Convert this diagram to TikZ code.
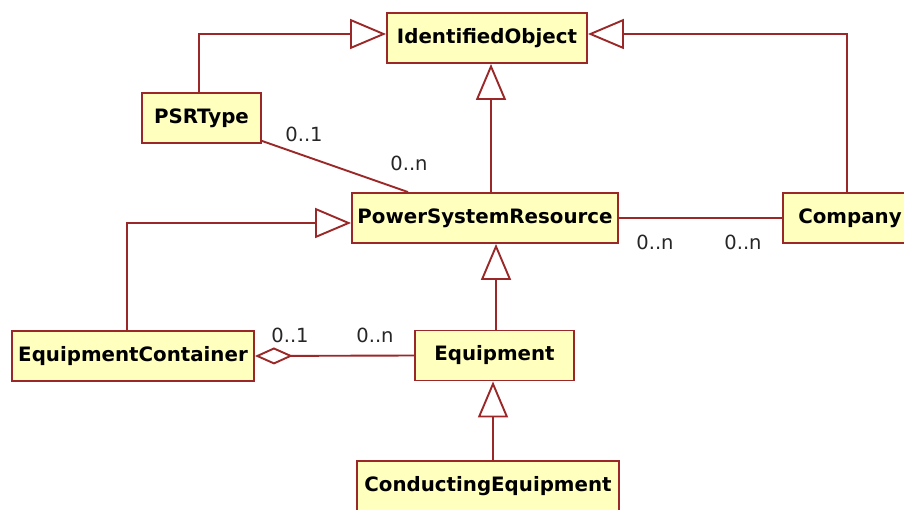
\documentclass[tikz,border=0pt]{standalone}
\usepackage{fontspec}
\setmainfont{DejaVu Sans}
\usetikzlibrary{arrows.meta,calc}
\definecolor{umlline}{RGB}{155,40,40}
\definecolor{umlfill}{RGB}{255,255,190}
\begin{document}
\begin{tikzpicture}[x=1pt,y=-1pt,
  cls/.style={draw=umlline, fill=umlfill, line width=1.9pt, rectangle, inner sep=0pt, minimum height=50pt, font=\fontsize{19.8}{24}\selectfont\bfseries, text=black},
  conn/.style={draw=umlline, line width=1.9pt},
  gen/.style={conn, -{Triangle[open, length=36pt, width=30pt, fill=white]}},
  agg/.style={conn, {Diamond[open, length=38pt, width=17pt, fill=white]}-},
  mult/.style={font=\fontsize{19.5}{22}\selectfont, text=black!85, inner sep=0pt}]
\useasboundingbox (0,0) rectangle (904,510);
\fill[white] (0,0) rectangle (904,510);
% classes
\node[cls, minimum width=200pt] (io) at (487,38) {IdentifiedObject};
\node[cls, minimum width=119pt] (psrt) at (201.5,118) {PSRType};
\node[cls, minimum width=266pt] (psr) at (485,218) {PowerSystemResource};
\node[cls, minimum width=134pt] (comp) at (850,218) {Company};
\node[cls, minimum width=242pt] (ec) at (133,356) {EquipmentContainer};
\node[cls, minimum width=159pt] (eq) at (494.5,355.5) {Equipment};
\node[cls, minimum width=262pt] (ce) at (488,486) {ConductingEquipment};
% generalisations
\draw[gen] ([xshift=-2.5pt]psrt.north) |- ([yshift=4pt]io.west);
\draw[gen] ([xshift=-3pt]comp.north) |- ([yshift=4pt]io.east);
\draw[gen] ([xshift=6pt]psr.north) -- ([xshift=4pt]io.south);
\draw[gen] ([xshift=-6pt]ec.north) |- ([yshift=-5pt]psr.west);
\draw[gen] ([xshift=1.5pt]eq.north) -- ([xshift=11pt]psr.south);
\draw[gen] ([xshift=5pt]ce.north) -- ([xshift=-1.5pt]eq.south);
% associations
\draw[conn] (psr.east) -- (comp.west);
\draw[agg] (ec.east) -- (eq.west);
\draw[conn] ([yshift=3pt]psrt.south east) -- ([xshift=-77pt]psr.north);
% multiplicities
\node[mult] (m1) at (304,134) {0..1};
\node[mult] (m2) at (409,163) {0..n};
\node[mult] (m3) at (655,242) {0..n};
\node[mult] (m4) at (743,242) {0..n};
\node[mult] (m5) at (290,335) {0..1};
\node[mult] (m6) at (375,335) {0..n};
\end{tikzpicture}
\end{document}
